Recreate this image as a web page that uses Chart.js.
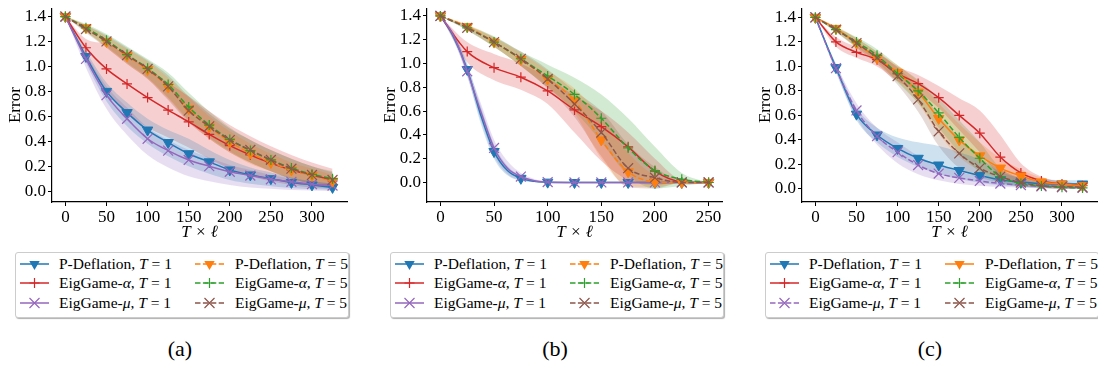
<!DOCTYPE html>
<html>
<head>
<meta charset="utf-8">
<script src="https://cdn.jsdelivr.net/npm/chart.js@4.4.0/dist/chart.umd.min.js"></script>
<style>
  body { margin: 0; background: #fff; width: 1098px; height: 370px; overflow: hidden; position: relative;
         font-family: "Liberation Serif", "Times New Roman", serif; color: #000; }
  .panel { position: absolute; top: 0; width: 375px; height: 370px; }
  .panel canvas { position: absolute; left: 0; top: 0; }
  .legend { position: absolute; left: 15px; top: 252px; width: 334px; height: 66px; box-sizing: border-box;
            border: 1px solid #cccccc; border-radius: 3px; box-shadow: 1px 1px 1px #b0b0b0; background: #fff; }
  .item { position: absolute; font-size: 15.5px; line-height: 18px; white-space: nowrap; }
  .handle { position: absolute; }
  .cap { position: absolute; top: 335px; left: 130px; width: 100px; text-align: center; font-size: 22px; line-height: 28px; }
</style>
</head>
<body>
<script>
// x positions (T x l) where the curves were read
const xsA = [0, 25, 50, 75, 100, 125, 150, 175, 200, 225, 250, 275, 300, 325];
const xsB = [0, 25, 50, 75, 100, 125, 150, 175, 200, 225, 250];
const xsBfast = [0, 12.5, 25, 37.5, 50, 62.5, 75, 87.5, 100, 125, 150, 175, 200, 225, 250];

const xTicksA = [0, 50, 100, 150, 200, 250, 300];
const xTicksB = [0, 50, 100, 150, 200, 250];
const yTicks = [0, 0.2, 0.4, 0.6, 0.8, 1.0, 1.2, 1.4];

// panel (a)
const aPd1   = [1.40, 1.08, 0.80, 0.63, 0.49, 0.39, 0.30, 0.235, 0.17, 0.13, 0.10, 0.07, 0.05, 0.03];
const aPd1Lo = [1.40, 1.03, 0.72, 0.52, 0.38, 0.28, 0.20, 0.14, 0.09, 0.06, 0.04, 0.025, 0.015, 0.01];
const aPd1Hi = [1.40, 1.12, 0.87, 0.71, 0.58, 0.49, 0.42, 0.33, 0.25, 0.19, 0.15, 0.11, 0.08, 0.06];
const aEa1   = [1.40, 1.15, 0.98, 0.86, 0.75, 0.65, 0.555, 0.455, 0.365, 0.29, 0.225, 0.17, 0.13, 0.09];
const aEa1Lo = [1.40, 1.08, 0.80, 0.62, 0.51, 0.43, 0.35, 0.26, 0.18, 0.12, 0.08, 0.05, 0.03, 0.02];
const aEa1Hi = [1.40, 1.22, 1.18, 1.09, 0.99, 0.87, 0.76, 0.64, 0.53, 0.44, 0.36, 0.29, 0.23, 0.18];
const aEm1   = [1.40, 1.06, 0.77, 0.58, 0.42, 0.325, 0.25, 0.20, 0.155, 0.125, 0.095, 0.075, 0.056, 0.045];
const aEm1Lo = [1.40, 0.99, 0.66, 0.45, 0.29, 0.19, 0.12, 0.08, 0.05, 0.03, 0.02, 0.01, 0.005, 0.0];
const aEm1Hi = [1.40, 1.10, 0.84, 0.67, 0.51, 0.41, 0.33, 0.27, 0.21, 0.17, 0.13, 0.10, 0.08, 0.06];
const aPd5   = [1.40, 1.31, 1.20, 1.085, 0.975, 0.835, 0.66, 0.515, 0.395, 0.305, 0.23, 0.17, 0.125, 0.08];
const aPd5Lo = [1.40, 1.28, 1.15, 1.02, 0.90, 0.74, 0.56, 0.42, 0.31, 0.22, 0.16, 0.10, 0.06, 0.03];
const aPd5Hi = [1.40, 1.33, 1.24, 1.14, 1.04, 0.91, 0.75, 0.60, 0.48, 0.38, 0.30, 0.23, 0.18, 0.13];
const aEa5   = [1.40, 1.31, 1.21, 1.095, 0.985, 0.855, 0.675, 0.53, 0.415, 0.325, 0.25, 0.185, 0.135, 0.10];
const aEa5Lo = [1.40, 1.28, 1.16, 1.03, 0.91, 0.75, 0.57, 0.43, 0.32, 0.23, 0.16, 0.10, 0.06, 0.04];
const aEa5Hi = [1.40, 1.34, 1.26, 1.16, 1.06, 0.95, 0.79, 0.64, 0.51, 0.41, 0.33, 0.26, 0.20, 0.16];
const aEm5   = [1.40, 1.30, 1.20, 1.09, 0.98, 0.84, 0.645, 0.52, 0.41, 0.33, 0.25, 0.18, 0.13, 0.09];
const aEm5Lo = [1.40, 1.27, 1.15, 1.02, 0.90, 0.73, 0.55, 0.42, 0.31, 0.23, 0.16, 0.10, 0.06, 0.03];
const aEm5Hi = [1.40, 1.33, 1.25, 1.15, 1.05, 0.93, 0.76, 0.62, 0.50, 0.41, 0.33, 0.26, 0.20, 0.15];

// panel (b)
const bPd1   = [1.40, 1.22, 0.95, 0.57, 0.26, 0.10, 0.035, 0.01, 0.003, 0, 0, 0, 0, 0, 0];
const bPd1Lo = [1.40, 1.19, 0.90, 0.50, 0.20, 0.06, 0.015, 0.003, 0, 0, 0, 0, 0, 0, 0];
const bPd1Hi = [1.40, 1.25, 1.00, 0.64, 0.32, 0.14, 0.055, 0.02, 0.005, 0, 0, 0, 0, 0, 0];
const bEa1   = [1.40, 1.10, 0.965, 0.885, 0.77, 0.61, 0.47, 0.30, 0.095, 0.005, 0];
const bEa1Lo = [1.40, 1.01, 0.86, 0.78, 0.66, 0.42, 0.18, 0.02, -0.02, 0, 0];
const bEa1Hi = [1.40, 1.18, 1.08, 1.00, 0.88, 0.73, 0.60, 0.42, 0.20, 0.02, 0];
const bEm1   = [1.40, 1.23, 0.935, 0.60, 0.29, 0.12, 0.05, 0.015, 0.004, 0, 0, 0, 0, 0, 0];
const bEm1Lo = [1.40, 1.20, 0.89, 0.53, 0.22, 0.07, 0.02, 0.005, 0, 0, 0, 0, 0, 0, 0];
const bEm1Hi = [1.40, 1.26, 0.98, 0.67, 0.36, 0.18, 0.08, 0.03, 0.01, 0, 0, 0, 0, 0, 0];
const bPd5   = [1.40, 1.31, 1.18, 1.035, 0.87, 0.69, 0.357, 0.09, 0.005, 0, 0];
const bPd5Lo = [1.40, 1.29, 1.14, 0.98, 0.80, 0.58, 0.20, -0.03, -0.04, 0, 0];
const bPd5Hi = [1.40, 1.33, 1.22, 1.09, 0.94, 0.79, 0.55, 0.25, 0.06, 0.01, 0];
const bEa5   = [1.40, 1.30, 1.18, 1.04, 0.895, 0.74, 0.54, 0.29, 0.10, 0.027, 0];
const bEa5Lo = [1.40, 1.28, 1.14, 0.98, 0.80, 0.60, 0.34, 0.06, -0.05, -0.03, 0];
const bEa5Hi = [1.40, 1.32, 1.23, 1.10, 0.99, 0.88, 0.74, 0.54, 0.30, 0.08, 0];
const bEm5   = [1.40, 1.30, 1.18, 1.04, 0.87, 0.66, 0.42, 0.12, 0.04, 0, 0];
const bEm5Lo = [1.40, 1.28, 1.14, 0.98, 0.79, 0.55, 0.22, -0.04, -0.05, 0, 0];
const bEm5Hi = [1.40, 1.32, 1.22, 1.10, 0.95, 0.77, 0.60, 0.32, 0.13, 0.01, 0];

// panel (c)
const cPd1   = [1.40, 0.99, 0.61, 0.44, 0.33, 0.25, 0.195, 0.15, 0.11, 0.075, 0.055, 0.045, 0.04, 0.04];
const cPd1Lo = [1.40, 0.96, 0.56, 0.38, 0.26, 0.18, 0.12, 0.08, 0.05, 0.03, 0.02, 0.01, 0.01, 0.01];
const cPd1Hi = [1.40, 1.02, 0.66, 0.50, 0.42, 0.38, 0.35, 0.30, 0.24, 0.14, 0.09, 0.08, 0.07, 0.07];
const cEa1   = [1.40, 1.20, 1.115, 1.055, 0.94, 0.86, 0.745, 0.60, 0.455, 0.26, 0.13, 0.065, 0.04, 0.026];
const cEa1Lo = [1.40, 1.16, 1.07, 1.00, 0.88, 0.79, 0.66, 0.48, 0.30, 0.11, 0.06, 0.03, 0.02, 0.01];
const cEa1Hi = [1.40, 1.24, 1.16, 1.11, 1.00, 0.93, 0.84, 0.74, 0.64, 0.44, 0.21, 0.10, 0.06, 0.04];
const cEm1   = [1.40, 0.985, 0.64, 0.43, 0.30, 0.195, 0.125, 0.09, 0.065, 0.044, 0.031, 0.02, 0.013, 0.008];
const cEm1Lo = [1.40, 0.95, 0.58, 0.36, 0.21, 0.12, 0.07, 0.04, 0.025, 0.015, 0.01, 0.005, 0.0, 0.0];
const cEm1Hi = [1.40, 1.02, 0.70, 0.50, 0.38, 0.27, 0.19, 0.14, 0.10, 0.07, 0.05, 0.04, 0.03, 0.02];
const cPd5   = [1.40, 1.31, 1.19, 1.07, 0.95, 0.79, 0.575, 0.40, 0.27, 0.17, 0.105, 0.057, 0.04, 0.026];
const cPd5Lo = [1.40, 1.29, 1.15, 1.02, 0.88, 0.70, 0.45, 0.26, 0.15, 0.09, 0.05, 0.02, 0.01, 0.01];
const cPd5Hi = [1.40, 1.33, 1.23, 1.12, 1.01, 0.88, 0.70, 0.53, 0.38, 0.25, 0.16, 0.09, 0.06, 0.04];
const cEa5   = [1.40, 1.30, 1.20, 1.09, 0.94, 0.80, 0.62, 0.42, 0.25, 0.10, 0.045, 0.024, 0.013, 0.008];
const cEa5Lo = [1.40, 1.28, 1.16, 1.04, 0.87, 0.70, 0.50, 0.30, 0.14, 0.05, 0.02, 0.01, 0.0, 0.0];
const cEa5Hi = [1.40, 1.32, 1.24, 1.14, 1.01, 0.89, 0.74, 0.56, 0.38, 0.17, 0.08, 0.04, 0.03, 0.02];
const cEm5   = [1.40, 1.30, 1.19, 1.07, 0.92, 0.73, 0.47, 0.29, 0.17, 0.10, 0.052, 0.026, 0.018, 0.013];
const cEm5Lo = [1.40, 1.28, 1.15, 1.02, 0.85, 0.63, 0.35, 0.17, 0.09, 0.05, 0.02, 0.01, 0.0, 0.0];
const cEm5Hi = [1.40, 1.32, 1.23, 1.12, 0.99, 0.83, 0.60, 0.42, 0.26, 0.16, 0.09, 0.05, 0.03, 0.02];

const FONT = '"Liberation Serif", "Times New Roman", serif';
const C = { blue: '#1f77b4', orange: '#ff7f0e', green: '#2ca02c', red: '#d62728', purple: '#9467bd', brown: '#8c564b' };
const NAMES = { pd: 'P-Deflation', ea: 'EigGame-<i>α</i>', em: 'EigGame-<i>μ</i>' };
const PLAIN = { pd: 'P-Deflation', ea: 'EigGame-α', em: 'EigGame-μ' };
const MARK = { pd: 'tri', ea: 'plus', em: 'x' };

// series in plotting order (legend is column-major, 2 columns)
function S(kind, T, color, dash, xs, m, lo, hi) { return { kind, T, color, dash, xs, m, lo, hi }; }

const panels = [
  { cap: '(a)', xmin: -16.3, xmax: 342.6, ymin: -0.087, ymax: 1.467, xticks: xTicksA, series: [
    S('pd', 1, C.blue, false, xsA, aPd1, aPd1Lo, aPd1Hi),
    S('ea', 1, C.red, false, xsA, aEa1, aEa1Lo, aEa1Hi),
    S('em', 1, C.purple, false, xsA, aEm1, aEm1Lo, aEm1Hi),
    S('pd', 5, C.orange, true, xsA, aPd5, aPd5Lo, aPd5Hi),
    S('ea', 5, C.green, true, xsA, aEa5, aEa5Lo, aEa5Hi),
    S('em', 5, C.brown, true, xsA, aEm5, aEm5Lo, aEm5Hi)] },
  { cap: '(b)', xmin: -12.5, xmax: 262.5, ymin: -0.164, ymax: 1.465, xticks: xTicksB, series: [
    S('pd', 1, C.blue, false, xsBfast, bPd1, bPd1Lo, bPd1Hi),
    S('ea', 1, C.red, false, xsB, bEa1, bEa1Lo, bEa1Hi),
    S('em', 1, C.purple, false, xsBfast, bEm1, bEm1Lo, bEm1Hi),
    S('pd', 5, C.orange, true, xsB, bPd5, bPd5Lo, bPd5Hi),
    S('ea', 5, C.green, true, xsB, bEa5, bEa5Lo, bEa5Hi),
    S('em', 5, C.brown, true, xsB, bEm5, bEm5Lo, bEm5Hi)] },
  { cap: '(c)', xmin: -16.3, xmax: 342.6, ymin: -0.107, ymax: 1.475, xticks: xTicksA, series: [
    S('pd', 1, C.blue, false, xsA, cPd1, cPd1Lo, cPd1Hi),
    S('ea', 1, C.red, false, xsA, cEa1, cEa1Lo, cEa1Hi),
    S('em', 1, C.purple, true, xsA, cEm1, cEm1Lo, cEm1Hi),
    S('pd', 5, C.orange, false, xsA, cPd5, cPd5Lo, cPd5Hi),
    S('ea', 5, C.green, true, xsA, cEa5, cEa5Lo, cEa5Hi),
    S('em', 5, C.brown, true, xsA, cEm5, cEm5Lo, cEm5Hi)] }
];

const DASH = [5.5, 2.4];

function rgba(hex, a) {
  const n = parseInt(hex.slice(1), 16);
  return `rgba(${n >> 16},${(n >> 8) & 255},${n & 255},${a})`;
}

function handleSVG(s) {
  const cx = 14.5, cy = 7;
  let mk = '';
  if (MARK[s.kind] === 'tri') {
    mk = `<polygon points="${cx - 5.2},${cy - 3} ${cx + 5.2},${cy - 3} ${cx},${cy + 6}" fill="${s.color}"/>`;
  } else if (MARK[s.kind] === 'plus') {
    mk = `<path d="M${cx - 5},${cy}H${cx + 5}M${cx},${cy - 5}V${cy + 5}" stroke="${s.color}" stroke-width="1.2"/>`;
  } else {
    mk = `<path d="M${cx - 5},${cy - 5}L${cx + 5},${cy + 5}M${cx - 5},${cy + 5}L${cx + 5},${cy - 5}" stroke="${s.color}" stroke-width="1.2"/>`;
  }
  const dash = s.dash ? ` stroke-dasharray="${DASH.join(' ')}"` : '';
  return `<svg width="29" height="14"><line x1="0" y1="${cy}" x2="29" y2="${cy}" stroke="${s.color}" stroke-width="1.5"${dash}/>${mk}</svg>`;
}

function buildChart(canvas, p) {
  const datasets = [];
  const pts = (xs, arr) => arr.map((y, k) => ({ x: xs[k], y }));
  p.series.forEach(s => {
    datasets.push({ data: pts(s.xs, s.hi), borderWidth: 0, pointRadius: 0, fill: false,
                    cubicInterpolationMode: 'monotone', order: 50 });
    datasets.push({ data: pts(s.xs, s.lo), borderWidth: 0, pointRadius: 0, fill: '-1',
                    backgroundColor: rgba(s.color, 0.22), cubicInterpolationMode: 'monotone', order: 50 });
  });
  p.series.forEach((s, i) => {
    const mk = MARK[s.kind];
    const r = mk === 'tri' ? 6 : (mk === 'plus' ? 5 : 7);
    datasets.push({
      label: PLAIN[s.kind] + ', T = ' + s.T,
      data: pts(s.xs, s.m),
      borderColor: s.color,
      borderWidth: 1.5,
      borderDash: s.dash ? DASH : [],
      cubicInterpolationMode: 'monotone',
      fill: false,
      pointStyle: mk === 'tri' ? 'triangle' : (mk === 'plus' ? 'cross' : 'crossRot'),
      rotation: mk === 'tri' ? 180 : 0,
      pointRadius: ctx => (ctx.raw && ctx.raw.x % 25 === 0) ? r : 0,
      pointBackgroundColor: s.color,
      pointBorderColor: s.color,
      pointBorderWidth: mk === 'tri' ? 1 : 1.2,
      clip: false,
      order: 10 - i
    });
  });

  const tickFont = { family: FONT, size: 17 };
  new Chart(canvas, {
    type: 'line',
    data: { datasets },
    options: {
      responsive: false,
      animation: false,
      events: [],
      layout: { padding: { left: 0, top: 0, right: 13, bottom: 0 } },
      plugins: { legend: { display: false }, tooltip: { enabled: false }, filler: { drawTime: 'beforeDatasetsDraw' } },
      scales: {
        x: {
          type: 'linear', min: p.xmin, max: p.xmax,
          grid: { drawOnChartArea: false, drawTicks: true, tickLength: 4, color: '#000', lineWidth: 1 },
          border: { color: '#000', width: 1.2 },
          ticks: { color: '#000', font: tickFont, padding: 1, maxRotation: 0 },
          afterBuildTicks: ax => { ax.ticks = p.xticks.map(v => ({ value: v })); },
          afterFit: ax => { ax.height = 43; ax.paddingLeft = 0; ax.paddingRight = 0; },
          title: { display: true, text: 'T × ℓ', color: '#000', font: { family: FONT, size: 17, style: 'italic' },
                   padding: { top: 0, bottom: 2 } }
        },
        y: {
          min: p.ymin, max: p.ymax,
          grid: { drawOnChartArea: false, drawTicks: true, tickLength: 4, color: '#000', lineWidth: 1 },
          border: { color: '#000', width: 1.2 },
          ticks: { color: '#000', font: tickFont, padding: 2, callback: v => v.toFixed(1) },
          afterBuildTicks: ax => { ax.ticks = yTicks.map(v => ({ value: v })); },
          afterFit: ax => { ax.width = 52; ax.paddingTop = 0; ax.paddingBottom = 0; },
          title: { display: true, text: 'Error', color: '#000', font: { family: FONT, size: 17 },
                   padding: { top: 5, bottom: 0 } }
        }
      }
    }
  });
}

const offsets = [0, 375, 750];
const rowY = [11.5, 31, 50.5];

panels.forEach((p, k) => {
  const div = document.createElement('div');
  div.className = 'panel';
  div.style.left = offsets[k] + 'px';
  document.body.appendChild(div);

  const cv = document.createElement('canvas');
  cv.width = 360; cv.height = 245;
  cv.style.width = '360px'; cv.style.height = '245px';
  div.appendChild(cv);

  const lg = document.createElement('div');
  lg.className = 'legend';
  div.appendChild(lg);
  p.series.forEach((s, i) => {
    const col = i < 3 ? 0 : 1, row = i % 3;
    const hx = col === 0 ? 4 : 179, tx = col === 0 ? 43 : 219;
    const h = document.createElement('div');
    h.className = 'handle';
    h.style.left = hx + 'px'; h.style.top = (rowY[row] - 8) + 'px';
    h.innerHTML = handleSVG(s);
    lg.appendChild(h);
    const t = document.createElement('div');
    t.className = 'item';
    t.style.left = tx + 'px'; t.style.top = (rowY[row] - 10) + 'px';
    t.innerHTML = NAMES[s.kind] + ', <i>T</i> = ' + s.T;
    lg.appendChild(t);
  });

  const cap = document.createElement('div');
  cap.className = 'cap';
  cap.textContent = p.cap;
  div.appendChild(cap);

  buildChart(cv, p);
});
</script>
</body>
</html>
